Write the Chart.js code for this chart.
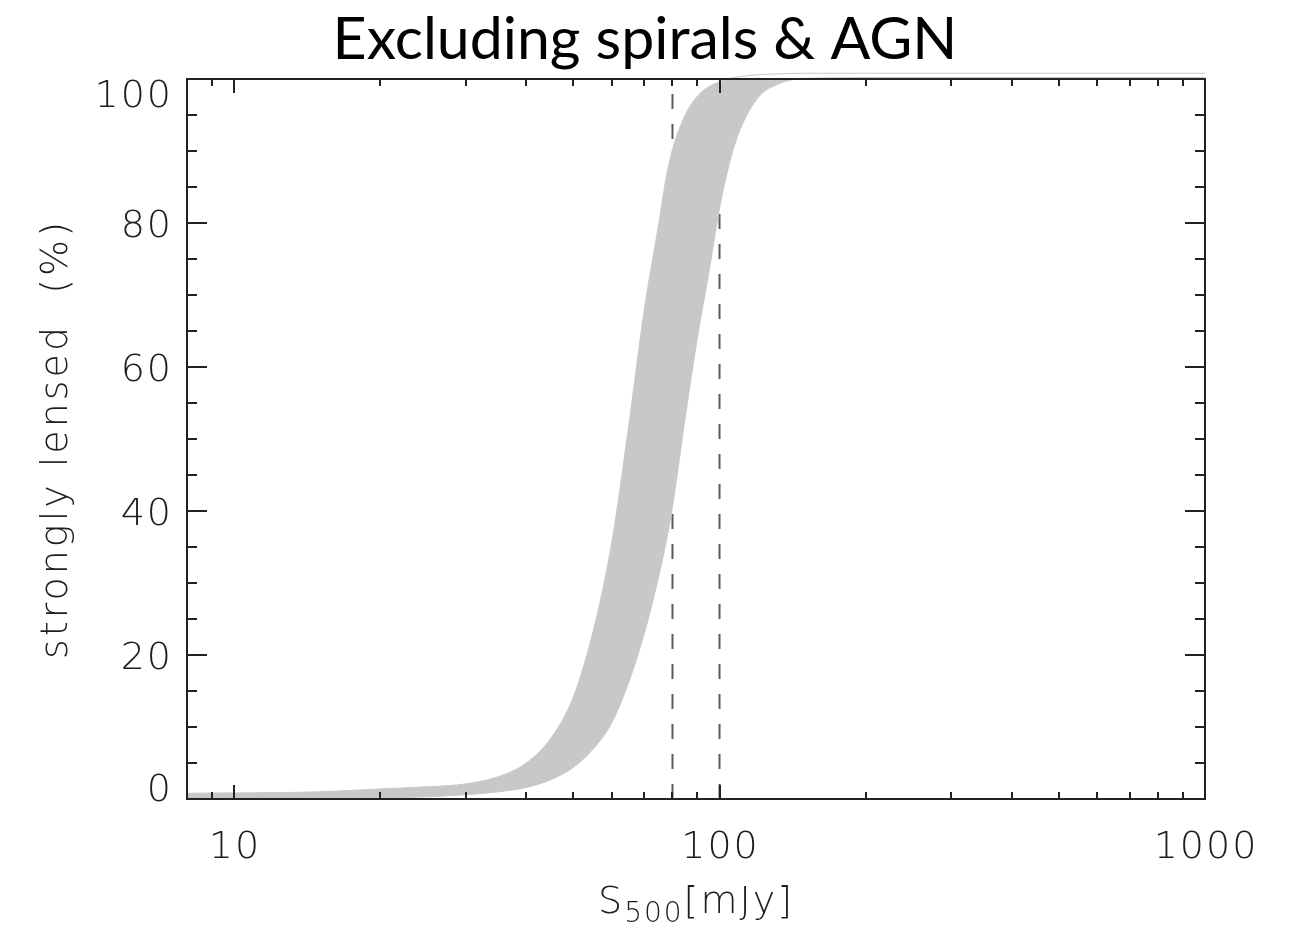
<!DOCTYPE html>
<html lang="en">
<head>
<meta charset="UTF-8">
<title>Excluding spirals &amp; AGN</title>
<script src="https://cdn.jsdelivr.net/npm/chart.js"></script>
<style>
  html, body { margin: 0; padding: 0; background: #fff; }
</style>
</head>
<body>
<canvas id="lensChart" width="1290" height="929"></canvas>
<script>
// flux grid (mJy) and the two edges of the shaded band (% strongly lensed)
const fluxMJy     = [8, 15, 20, 25, 30, 35, 40, 45, 50, 55, 60, 65, 70, 75, 77.5, 80, 85, 90, 95, 100, 105, 110, 120, 130, 150, 200, 1000];
const lensedUpper = [0.8, 1.0, 1.4, 1.7, 2.1, 3.1, 5.0, 8.5, 14.2, 23.5, 35.7, 51.8, 68, 80, 86, 90.2, 95, 97.6, 98.9, 99.6, 100.1, 100.3, 100.6, 100.7, 100.8, 100.8, 100.8];
const lensedLower = [0.0, 0.05, 0.15, 0.3, 0.6, 1.0, 1.6, 2.7, 4.4, 7.0, 10.6, 16.2, 23.0, 31, 35.5, 40.6, 53, 64, 73, 82, 88.5, 92.8, 97.4, 99.1, 100.1, 100.2, 100.2];
const cutFluxes   = [80, 100];
const xTickValues = [10, 100, 1000];
const yTickValues = [0, 20, 40, 60, 80, 100];

const LABEL_FONT = '200 38px "DejaVu Sans", sans-serif';
const SUB_FONT = '200 28px "DejaVu Sans", sans-serif';
const INK = '#1e1e1e';
const bandColor = '#c8c8c8';

const datasets = [
    {
        label: 'upper',
        data: fluxMJy.map((f, i) => ({ x: f, y: lensedUpper[i] })),
        borderColor: bandColor,
        borderWidth: 1,
        backgroundColor: bandColor,
        fill: '+1',
        pointRadius: 0,
        cubicInterpolationMode: 'monotone',
        clip: false
    },
    {
        label: 'lower',
        data: fluxMJy.map((f, i) => ({ x: f, y: lensedLower[i] })),
        borderColor: bandColor,
        borderWidth: 1,
        backgroundColor: bandColor,
        fill: false,
        pointRadius: 0,
        cubicInterpolationMode: 'monotone',
        clip: false
    }
];
cutFluxes.forEach(f => {
    datasets.push({
        label: 'cut ' + f,
        data: [{ x: f, y: 0 }, { x: f, y: 100 }],
        borderColor: '#5a5a5a',
        borderWidth: 2,
        borderDash: [15, 15],
        pointRadius: 0,
        fill: false
    });
});

// IDL-style box: inward ticks on all four sides, labels drawn by hand
const framePlugin = {
    id: 'idlFrame',
    afterDraw(chart) {
        const { ctx, chartArea: a, scales: { x, y } } = chart;
        ctx.save();
        ctx.strokeStyle = '#222';
        ctx.lineWidth = 2;
        ctx.strokeRect(a.left, a.top, a.right - a.left, a.bottom - a.top);

        ctx.beginPath();
        [1, 10, 100, 1000].forEach(dec => {
            for (let m = 1; m <= 9; m++) {
                const v = m * dec;
                if (v < x.min || v > x.max) continue;
                const px = Math.round(x.getPixelForValue(v));
                const len = m === 1 ? 14 : 7;
                ctx.moveTo(px, a.bottom); ctx.lineTo(px, a.bottom - len);
                ctx.moveTo(px, a.top); ctx.lineTo(px, a.top + len);
            }
        });
        for (let v = 0; v <= 100; v += 5) {
            const py = Math.round(y.getPixelForValue(v));
            const len = v % 20 === 0 ? 20 : 10;
            ctx.moveTo(a.left, py); ctx.lineTo(a.left + len, py);
            ctx.moveTo(a.right, py); ctx.lineTo(a.right - len, py);
        }
        ctx.stroke();

        ctx.fillStyle = INK;
        ctx.font = LABEL_FONT;
        ctx.textBaseline = 'alphabetic';
        ctx.letterSpacing = '2px';

        // x tick labels
        ctx.textAlign = 'center';
        xTickValues.forEach(v => {
            ctx.fillText(String(v), x.getPixelForValue(v) + 1, a.bottom + 59);
        });

        // y tick labels, kept inside the box at the ends
        ctx.textAlign = 'right';
        yTickValues.forEach(v => {
            let base = y.getPixelForValue(v) + 14;
            base = Math.min(Math.max(base, a.top + 28), a.bottom + 2);
            ctx.fillText(String(v), a.left - 14, base);
        });

        // y title
        ctx.save();
        ctx.letterSpacing = '3px';
        ctx.translate(67, (a.top + a.bottom) / 2);
        ctx.rotate(-Math.PI / 2);
        ctx.textAlign = 'center';
        ctx.fillText('strongly lensed  (%)', 0, 0);
        ctx.restore();

        // x title with subscript
        const parts = [['S', LABEL_FONT, 0], ['500', SUB_FONT, 9], ['[mJy]', LABEL_FONT, 0]];
        let total = 0;
        parts.forEach(p => { ctx.font = p[1]; total += ctx.measureText(p[0]).width; });
        let cx = (a.left + a.right) / 2 - total / 2;
        ctx.textAlign = 'left';
        parts.forEach(p => {
            ctx.font = p[1];
            ctx.fillText(p[0], cx, a.bottom + 114 + p[2]);
            cx += ctx.measureText(p[0]).width;
        });
        ctx.restore();
    }
};

// hidden scales only reserve the margins around the box
const spacer = size => ({
    display: true,
    grid: { display: false, drawTicks: false },
    border: { display: false },
    ticks: { display: false },
    afterFit: s => { if (s.isHorizontal()) s.height = size; else s.width = size; }
});

const ctx = document.getElementById('lensChart').getContext('2d');
new Chart(ctx, {
    type: 'line',
    data: { datasets: datasets },
    options: {
        responsive: false,
        animation: false,
        layout: { padding: 0 },
        plugins: {
            legend: { display: false },
            tooltip: { enabled: false },
            title: {
                display: true,
                text: 'Excluding spirals & AGN',
                color: '#000',
                font: { family: 'Lato', size: 59, weight: 'normal', lineHeight: 1 },
                padding: { top: 10, bottom: 10 }
            }
        },
        scales: {
            x: Object.assign(spacer(130), { type: 'logarithmic', min: 8, max: 1000 }),
            y: Object.assign(spacer(187), { min: 0, max: 100, position: 'left' }),
            yRight: Object.assign(spacer(85), { min: 0, max: 100, position: 'right' })
        }
    },
    plugins: [framePlugin]
});
</script>
</body>
</html>
